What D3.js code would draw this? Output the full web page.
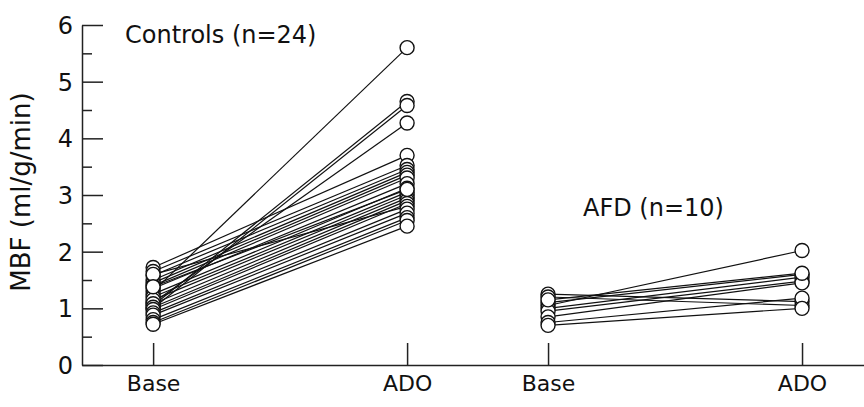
<!DOCTYPE html>
<html>
<head>
<meta charset="utf-8">
<script src="https://cdn.jsdelivr.net/npm/d3@7"></script>
<style>
  body { margin: 0; background: #fff; }
  text { font-family: "DejaVu Sans", sans-serif; fill: #111; }
</style>
</head>
<body>
<div id="plot"></div>
<script>
// group labels and where they sit on the x axis (Base -> ADO, one unit apart)
var groupNames = ["Controls (n=24)", "AFD (n=10)"];
var xTickLabels = ["Base", "ADO", "Base", "ADO"];
var xTickPos = [0, 1, 1.555, 2.555];
var yTicks = [0, 1, 2, 3, 4, 5, 6];
var yMinorTicks = [0.5, 1.5, 2.5, 3.5, 4.5, 5.5];

// MBF at baseline and after adenosine, one entry per subject
var controlsBase = [1.30, 1.05, 1.00, 1.10, 1.72, 1.65, 1.58, 1.50, 1.45, 1.40, 1.35, 1.25,
                    1.20, 1.15, 1.08, 1.02, 0.98, 1.60, 0.92, 0.88, 0.80, 0.75, 0.72, 1.38];
var controlsAdo  = [5.60, 4.65, 4.58, 4.27, 3.70, 3.52, 3.45, 3.40, 3.35, 3.30, 3.20, 3.12,
                    3.05, 3.00, 2.95, 2.90, 2.85, 2.80, 2.75, 2.68, 2.60, 2.55, 2.45, 3.10];
var afdBase = [1.05, 1.25, 1.20, 1.10, 1.00, 0.95, 0.85, 0.75, 0.70, 1.15];
var afdAdo  = [2.02, 1.12, 1.05, 1.60, 1.55, 1.48, 1.45, 1.18, 1.00, 1.62];

var margin = {top: 25, right: 0, bottom: 42, left: 82},
    width = 864 - margin.left - margin.right,
    height = 407 - margin.top - margin.bottom;

var svg = d3.select("#plot")
  .append("svg")
    .attr("width", width + margin.left + margin.right)
    .attr("height", height + margin.top + margin.bottom)
  .append("g")
    .attr("transform", "translate(" + margin.left + "," + margin.top + ")");

var x = d3.scaleLinear()
    .domain([-0.28, 2.799])
    .range([0, width]);

var y = d3.scaleLinear()
    .domain([0, 6])
    .range([height, 0]);

// y axis, ticks point inward
var yAxis = svg.append("g")
    .call(d3.axisLeft(y).tickValues(yTicks).tickSize(-21).tickSizeOuter(0).tickPadding(9)
      .tickFormat(d3.format("d")));
svg.append("g")
    .call(d3.axisLeft(y).tickValues(yMinorTicks).tickSize(-10).tickSizeOuter(0).tickFormat(""))
    .select(".domain").remove();
yAxis.selectAll("text").style("font-size", "24px").attr("dy", "0.36em");

// x axis
var xAxis = svg.append("g")
    .attr("transform", "translate(0," + height + ")")
    .call(d3.axisBottom(x).tickValues(xTickPos).tickSize(-22).tickSizeOuter(0).tickPadding(10)
      .tickFormat(function(d, i) { return xTickLabels[i]; }));
xAxis.selectAll("text").style("font-size", "22px");

svg.selectAll(".domain, .tick line").attr("stroke", "#222").attr("stroke-width", 1.5);

// Y label
svg.append("text")
    .attr("text-anchor", "middle")
    .attr("transform", "translate(-52," + (height / 2 - 3) + ") rotate(-90)")
    .style("font-size", "26px")
    .text("MBF (ml/g/min)");

// group titles
svg.append("text")
    .attr("x", 125 - margin.left)
    .attr("y", 43 - margin.top)
    .style("font-size", "24px")
    .text(groupNames[0]);

svg.append("text")
    .attr("x", 583 - margin.left)
    .attr("y", 216 - margin.top)
    .style("font-size", "24px")
    .text(groupNames[1]);

var pairs = [];
controlsBase.forEach(function(b, i) { pairs.push({x0: xTickPos[0], x1: xTickPos[1], b: b, a: controlsAdo[i]}); });
afdBase.forEach(function(b, i) { pairs.push({x0: xTickPos[2], x1: xTickPos[3], b: b, a: afdAdo[i]}); });

svg.append("g")
  .selectAll("line")
  .data(pairs)
  .enter()
  .append("line")
    .attr("x1", function(d) { return x(d.x0); })
    .attr("y1", function(d) { return y(d.b); })
    .attr("x2", function(d) { return x(d.x1); })
    .attr("y2", function(d) { return y(d.a); })
    .attr("stroke", "#111")
    .attr("stroke-width", 1.2);

var pts = [];
pairs.forEach(function(d) {
  pts.push({x: d.x0, v: d.b});
  pts.push({x: d.x1, v: d.a});
});

svg.append("g")
  .selectAll("circle")
  .data(pts)
  .enter()
  .append("circle")
    .attr("cx", function(d) { return x(d.x); })
    .attr("cy", function(d) { return y(d.v); })
    .attr("r", 7)
    .attr("fill", "#fff")
    .attr("stroke", "#111")
    .attr("stroke-width", 1.4);
</script>
</body>
</html>
